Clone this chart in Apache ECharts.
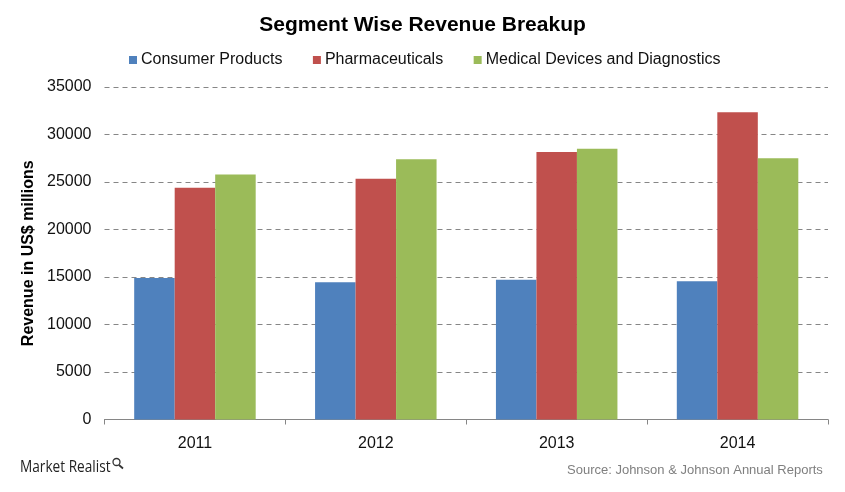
<!DOCTYPE html>
<html><head><meta charset="utf-8">
<style>html,body{margin:0;padding:0;background:#fff}#c{width:845px;height:492px}</style>
<script src="https://cdn.jsdelivr.net/npm/echarts@6/dist/echarts.min.js"></script></head>
<body><div id="c"></div>
<script>
const years = ['2011','2012','2013','2014'];
const consumerProducts = [14900,14450,14700,14550];
const pharmaceuticals = [24400,25350,28150,32350];
const medicalDevices = [25800,27400,28500,27500];
const F = '"Liberation Sans", Arial, sans-serif';
const chart = echarts.init(document.getElementById('c'), null, {renderer:'canvas'});
const bar = (name,data,color)=>({name,type:'bar',data,barWidth:40.5,barGap:0,itemStyle:{color}});
chart.setOption({
  animation:false,
  backgroundColor:'#fff',
  title:{text:'Segment Wise Revenue Breakup',left:'center',top:10,
    textStyle:{fontFamily:F,fontSize:21,fontWeight:'bold',color:'#000'}},
  legend:{top:47,left:124,itemWidth:8,itemHeight:8,itemGap:30.5,icon:'rect',
    textStyle:{fontFamily:F,fontSize:16,color:'#111',padding:[0,0,0,-1]}},
  grid:{left:104.5,right:17,top:87,bottom:72.5,containLabel:false},
  xAxis:{type:'category',data:years,
    axisLine:{lineStyle:{color:'#868686',width:1}},
    axisTick:{show:true,length:5,inside:false,alignWithLabel:false,lineStyle:{color:'#868686'}},
    axisLabel:{fontFamily:F,fontSize:16,color:'#111',margin:16}},
  yAxis:{type:'value',min:0,max:35000,interval:5000,
    name:'Revenue in US$ millions',nameLocation:'middle',nameGap:60,nameRotate:90,
    nameTextStyle:{fontFamily:F,fontSize:16,fontWeight:'bold',color:'#000'},
    axisLine:{show:false},axisTick:{show:false},
    axisLabel:{fontFamily:F,fontSize:16,color:'#111',margin:13,formatter:v=>String(v)},
    splitLine:{lineStyle:{color:'#868686',type:[5,4],width:1}}},
  series:[
    bar('Consumer Products',consumerProducts,'#4F81BD'),
    bar('Pharmaceuticals',pharmaceuticals,'#C0504D'),
    bar('Medical Devices and Diagnostics',medicalDevices,'#9BBB59')
  ],
  graphic:[
    {type:'text',x:20,y:460,scaleX:0.88,style:{text:'Market Realist',fontFamily:'"Open Sans",'+F,fontSize:15.5,fontWeight:500,fill:'#222'}},
    {type:'text',left:567,top:464,style:{text:'Source: Johnson & Johnson Annual Reports',fontFamily:F,fontSize:13,fill:'#7f7f7f'}},
    {type:'circle',shape:{cx:116.5,cy:462,r:3.5},style:{fill:'none',stroke:'#333',lineWidth:1.3}},
    {type:'line',shape:{x1:119,y1:465,x2:123,y2:468.5},style:{stroke:'#333',lineWidth:1.8}}
  ]
});
</script></body></html>
